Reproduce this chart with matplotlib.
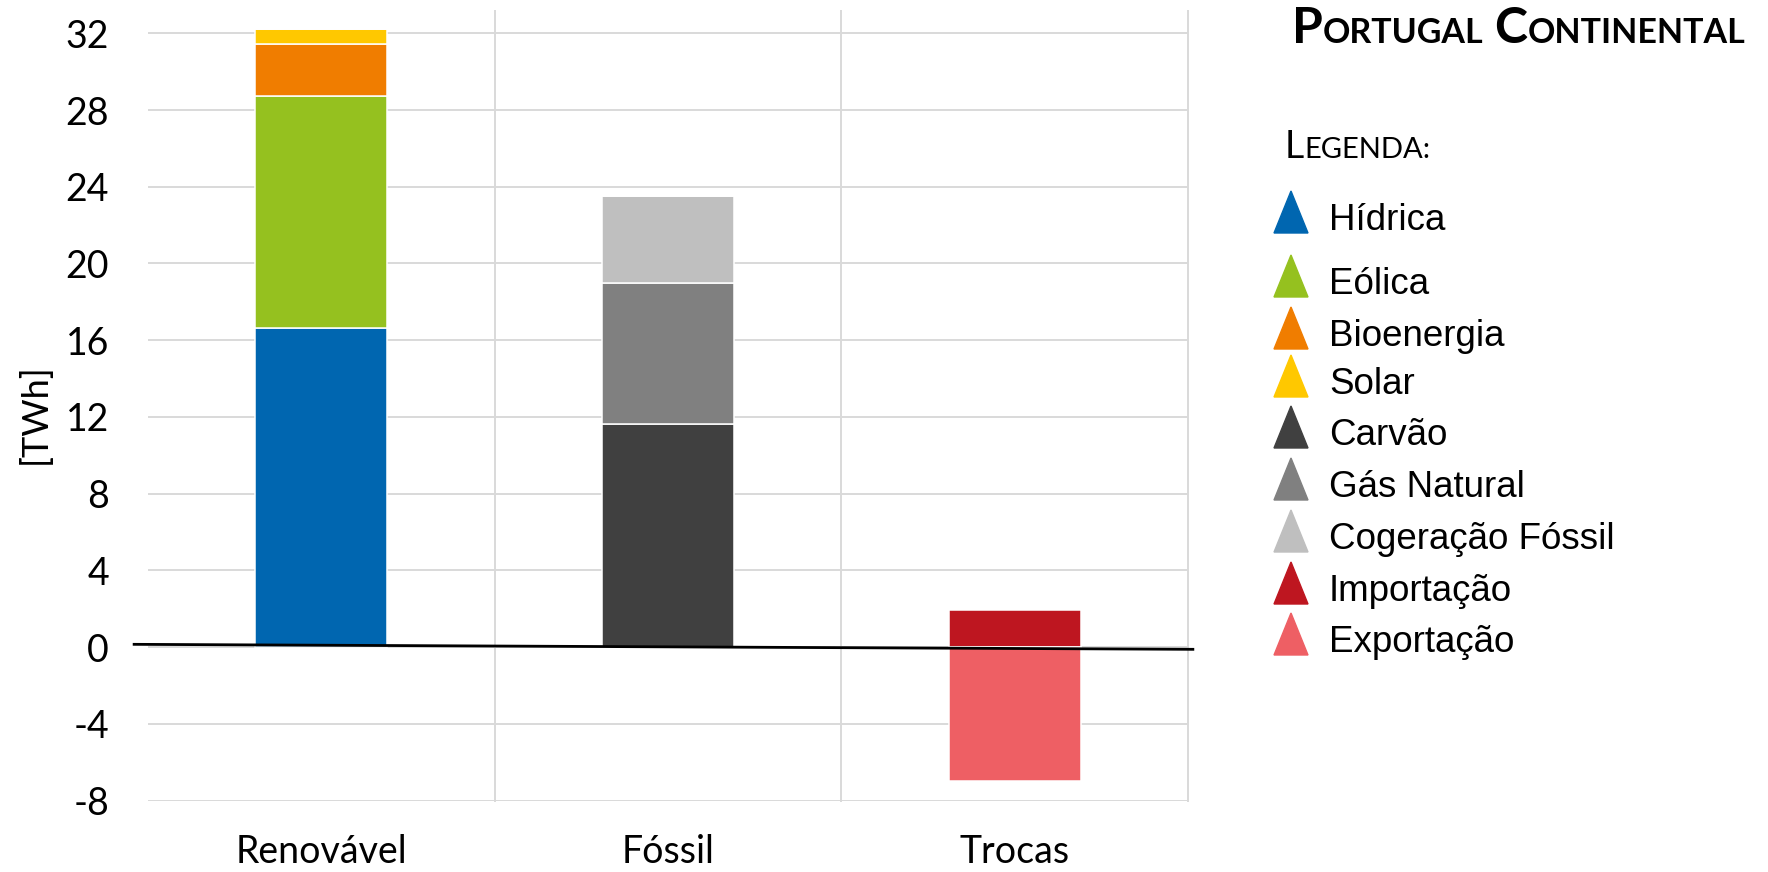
import matplotlib.pyplot as plt
from matplotlib.patches import Polygon

plt.rcParams['axes.unicode_minus'] = False

# Produção de electricidade por origem [TWh]
categories = ['Renovável', 'Fóssil', 'Trocas']

hidrica = [16.63, 0, 0]
eolica = [12.12, 0, 0]
bioenergia = [2.71, 0, 0]
solar = [0.76, 0, 0]
carvao = [0, 11.63, 0]
gas_natural = [0, 7.37, 0]
cogeracao = [0, 4.52, 0]
importacao = [0, 0, 1.92]
exportacao = [0, 0, -6.99]

series_names = ['Hídrica', 'Eólica', 'Bioenergia', 'Solar', 'Carvão',
                'Gás Natural', 'Cogeração Fóssil', 'Importação', 'Exportação']
series_values = [hidrica, eolica, bioenergia, solar, carvao,
                 gas_natural, cogeracao, importacao, exportacao]
series_colors = ['#0066B0', '#95C11F', '#F07D00', '#FFC800', '#404040',
                 '#808080', '#BFBFBF', '#BE1620', '#EE5F64']

y_ticks = list(range(-8, 33, 4))

W, H = 1768, 872
fig = plt.figure(figsize=(W / 100, H / 100), dpi=100)
ax = fig.add_axes([148 / W, (H - 800.7) / H, 1040 / W, 789.7 / H])

# barras empilhadas (positivas para cima, negativas para baixo)
x = list(range(len(categories)))
pos_base = [0.0] * len(categories)
neg_base = [0.0] * len(categories)
for name, vals, col in zip(series_names, series_values, series_colors):
    bottoms = []
    for i, v in enumerate(vals):
        if v >= 0:
            bottoms.append(pos_base[i])
            pos_base[i] += v
        else:
            bottoms.append(neg_base[i])
            neg_base[i] += v
    ax.bar(x, vals, bottom=bottoms, width=0.38, color=col,
           edgecolor='white', linewidth=1.1, label=name, zorder=3)

ax.set_xlim(-0.5, 2.5)
ax.set_ylim(-8, 33.16)
ax.set_yticks(y_ticks)
ax.set_xticks(x)
ax.set_xticklabels(categories)
ax.yaxis.grid(True, color='#D9D9D9', linewidth=1.4, zorder=0)
for xv in (0.5, 1.5, 2.5):
    ax.axvline(xv, color='#D9D9D9', linewidth=1.4, zorder=0, clip_on=False)
for s in ax.spines.values():
    s.set_visible(False)
ax.tick_params(length=0, labelsize=27)
ax.tick_params(axis='y', pad=28)
ax.tick_params(axis='x', pad=24)
for lab in ax.get_xticklabels() + ax.get_yticklabels():
    lab.set_fontfamily('Lato')

ax.set_ylabel('[TWh]', fontsize=26, family='Lato', va='center')
ax.yaxis.set_label_coords(-0.109, 0.49)

# linha do zero
ax.plot([-0.54, 2.514], [0.15, -0.11], color='black', linewidth=2.0,
        clip_on=False, zorder=5)

# camada em coordenadas de pixel para título e legenda
lax = fig.add_axes([0, 0, 1, 1])
lax.set_xlim(0, W)
lax.set_ylim(H, 0)
lax.axis('off')
renderer = fig.canvas.get_renderer()


def small_caps(x0, y0, words, big, small, **kw):
    for word in words:
        for s, size in ((word[0], big), (word[1:].upper(), small)):
            t = lax.text(x0, y0, s, fontsize=size, va='baseline', ha='left', **kw)
            x0 += t.get_window_extent(renderer).width
        x0 += 0.3 * big


small_caps(1292, 43, ['Portugal', 'Continental'], 36, 24.5,
           family='Lato', fontweight='bold')
small_caps(1285, 158, ['Legenda:'], 27, 21, family='Lato')

row_bottoms = [233, 297, 349, 397, 448, 500, 552, 604, 655]
for name, col, b in zip(series_names, series_colors, row_bottoms):
    lax.add_patch(Polygon([(1274, b), (1308, b), (1291, b - 42)],
                          closed=True, color=col))
    lax.text(1329, b - 3, name, fontsize=26.5, family='Liberation Sans',
             va='baseline', ha='left')

fig.savefig('out.png', dpi=100)
